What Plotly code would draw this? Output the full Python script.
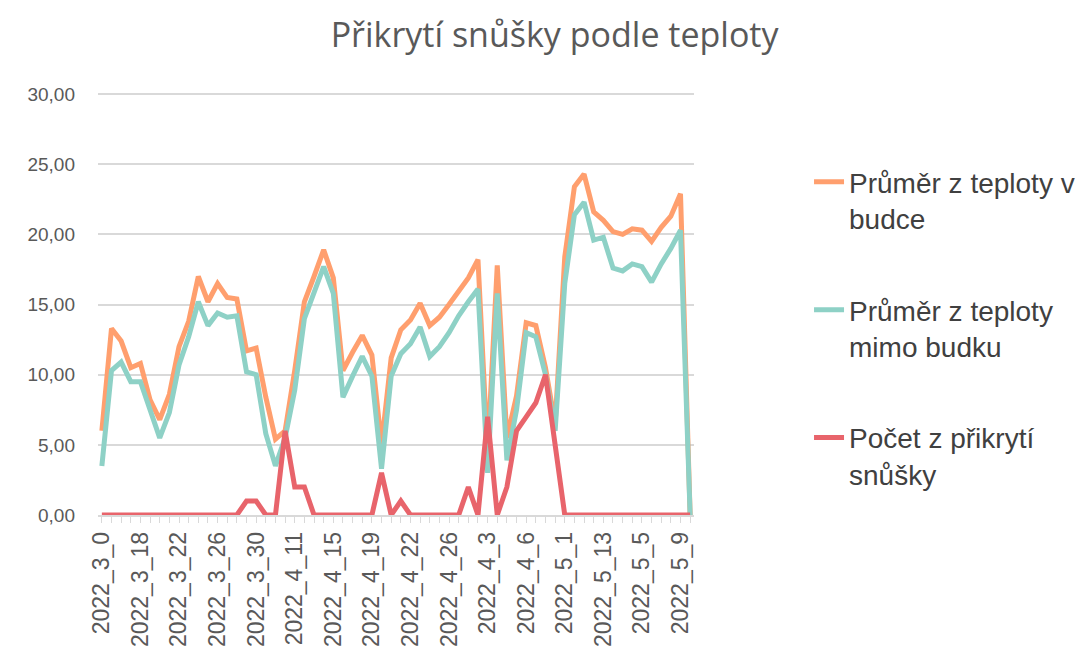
import plotly.graph_objects as go

# categories (text sorted, as in the source pivot table)
days = [
    "2022_3_0", "2022_3_15", "2022_3_16", "2022_3_17",
    "2022_3_18", "2022_3_19", "2022_3_20", "2022_3_21",
    "2022_3_22", "2022_3_23", "2022_3_24", "2022_3_25",
    "2022_3_26", "2022_3_27", "2022_3_28", "2022_3_29",
    "2022_3_30", "2022_3_31", "2022_4_1", "2022_4_10",
    "2022_4_11", "2022_4_12", "2022_4_13", "2022_4_14",
    "2022_4_15", "2022_4_16", "2022_4_17", "2022_4_18",
    "2022_4_19", "2022_4_2", "2022_4_20", "2022_4_21",
    "2022_4_22", "2022_4_23", "2022_4_24", "2022_4_25",
    "2022_4_26", "2022_4_27", "2022_4_28", "2022_4_29",
    "2022_4_3", "2022_4_30", "2022_4_4", "2022_4_5",
    "2022_4_6", "2022_4_7", "2022_4_8", "2022_4_9",
    "2022_5_1", "2022_5_10", "2022_5_11", "2022_5_12",
    "2022_5_13", "2022_5_2", "2022_5_3", "2022_5_4",
    "2022_5_5", "2022_5_6", "2022_5_7", "2022_5_8",
    "2022_5_9", "(prázdné)",
]

temp_in = [
    6.0, 13.3, 12.4, 10.5, 10.8, 8.2, 6.8, 8.6, 12.0, 13.8,
    17.0, 15.2, 16.5, 15.5, 15.4, 11.7, 11.9, 8.4, 5.4, 6.0,
    10.3, 15.2, 17.0, 18.9, 16.9, 10.3, 11.6, 12.8, 11.4, 5.0,
    11.2, 13.2, 13.9, 15.1, 13.5, 14.1, 15.0, 16.0, 16.9, 18.2,
    4.5, 17.8, 5.5, 8.5, 13.7, 13.5, 10.5, 6.5, 18.4, 23.4,
    24.3, 21.6, 21.0, 20.2, 20.0, 20.4, 20.3, 19.5, 20.5, 21.3,
    22.9, 0.0,
]

temp_out = [
    3.5, 10.3, 10.9, 9.5, 9.5, 7.5, 5.5, 7.3, 10.7, 12.7,
    15.2, 13.5, 14.4, 14.1, 14.2, 10.2, 10.0, 5.8, 3.5, 5.5,
    8.9, 14.0, 15.8, 17.7, 15.8, 8.4, 9.9, 11.3, 9.9, 3.3,
    9.9, 11.5, 12.2, 13.4, 11.3, 12.0, 13.0, 14.2, 15.2, 16.1,
    3.0, 15.8, 3.9, 7.5, 13.0, 12.7, 10.0, 6.0, 16.5, 21.4,
    22.3, 19.6, 19.8, 17.6, 17.4, 17.9, 17.7, 16.6, 17.9, 19.0,
    20.3, 0.0,
]

covered = [
    0, 0, 0, 0, 0, 0, 0, 0, 0, 0,
    0, 0, 0, 0, 0, 1, 1, 0, 0, 6,
    2, 2, 0, 0, 0, 0, 0, 0, 0, 3,
    0, 1, 0, 0, 0, 0, 0, 0, 2, 0,
    7, 0, 2, 6, 7, 8, 10, 5, 0, 0,
    0, 0, 0, 0, 0, 0, 0, 0, 0, 0,
    0, 0,
]

tick_text = [d if i % 4 == 0 and i < 61 else "" for i, d in enumerate(days)]

grey = "#595959"

fig = go.Figure()
fig.add_trace(go.Scatter(x=days, y=temp_in, mode="lines", name="Průměr z teploty v<br>budce",
                         legendgroup="a", line=dict(color="#FF9F6E", width=5)))
fig.add_trace(go.Scatter(x=days, y=temp_out, mode="lines", name="Průměr z teploty<br>mimo budku",
                         legendgroup="b", line=dict(color="#8ED1C6", width=5)))
fig.add_trace(go.Scatter(x=days, y=covered, mode="lines", name="Počet z přikrytí<br>snůšky",
                         legendgroup="c", line=dict(color="#E8646B", width=5)))

# the page body adds an 8 px offset, so margins are shifted to compensate
fig.update_layout(
    width=1091, height=661,
    margin=dict(l=90, r=405, t=85, b=154),
    paper_bgcolor="white", plot_bgcolor="white",
    separators=", ",
    title=dict(text="Přikrytí snůšky podle teploty", x=0.501, xanchor="center", y=0.959, yanchor="middle",
               font=dict(family="Open Sans", size=34, color=grey)),
    font=dict(family="Liberation Sans", color=grey),
    showlegend=True,
    legend=dict(x=1.193, xanchor="left", y=0.848, yanchor="top", valign="top",
                tracegroupgap=52, font=dict(size=28, color="#404040")),
)
fig.update_xaxes(
    type="category", range=[-0.4, 61.4], automargin=False,
    tickmode="array", tickvals=days, ticktext=tick_text,
    tickangle=-90, tickfont=dict(size=23, color=grey),
    ticks="outside", ticklen=6, tickcolor="#d9d9d9",
    showline=True, linecolor="#d9d9d9", linewidth=1.5,
    showgrid=False,
)
fig.update_yaxes(
    range=[0, 30.08], tickvals=[0, 5, 10, 15, 20, 25, 30], tickformat=".2f", automargin=False,
    tickfont=dict(size=19, color=grey),
    showgrid=True, gridcolor="#d9d9d9", gridwidth=1.5,
    zeroline=False, ticklabelstandoff=22,
)

fig.write_html("out.html")
